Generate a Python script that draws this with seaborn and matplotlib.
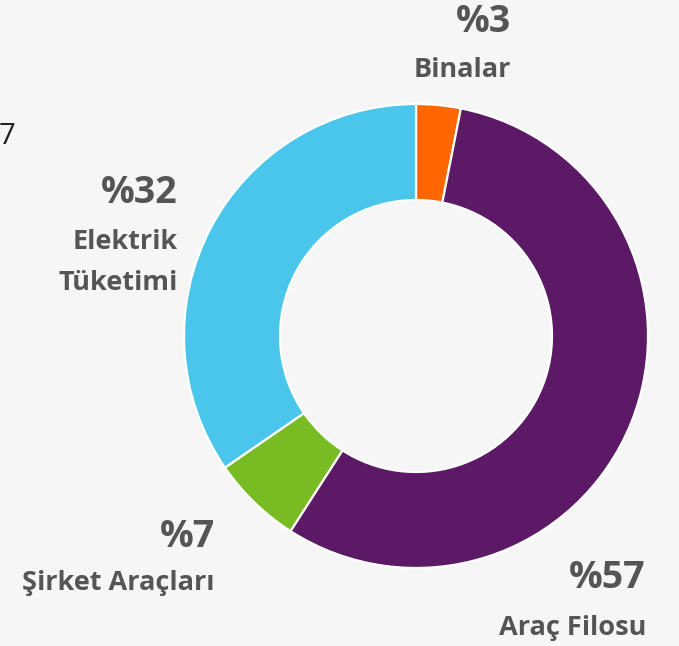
import matplotlib
matplotlib.use("Agg")
import matplotlib.pyplot as plt
import seaborn as sns

# dilim payları (resimden okunan açılara göre) ve etiketler
dilimler = ["Binalar", "Araç Filosu", "Şirket Araçları", "Elektrik Tüketimi"]
paylar = [3.1, 56.0, 6.3, 34.6]
yuzde_etiket = ["%3", "%57", "%7", "%32"]
renkler = ["#FF6600", "#5C1A66", "#78BB22", "#4AC6EC"]

sns.set_theme(style="white", rc={"figure.facecolor": "#F6F6F6",
                                 "axes.facecolor": "#F6F6F6"})
plt.rcParams["font.family"] = ["Open Sans", "DejaVu Sans"]

W, H = 679, 646
fig = plt.figure(figsize=(W / 100, H / 100), dpi=100)
ax = fig.add_axes([0, 0, 1, 1])

merkez = (416, H - 336)
ax.pie(paylar, colors=sns.color_palette(renkler), startangle=90,
       counterclock=False, center=merkez, radius=232,
       wedgeprops=dict(width=96, edgecolor="white", linewidth=1.6))
ax.set_xlim(0, W)
ax.set_ylim(0, H)
ax.set_aspect("equal")
ax.axis("off")

yazi = "#555555"
# etiket konumları (piksel, üstten)
konum = {
    "Binalar": (511, 22, ["Binalar"], 70, 0),
    "Araç Filosu": (646, 578, ["Araç Filosu"], 628, 0),
    "Şirket Araçları": (215, 537, ["Şirket Araçları"], 583, 0),
    "Elektrik Tüketimi": (178, 193, ["Elektrik", "Tüketimi"], 242, 41),
}
for ad, yz in zip(dilimler, yuzde_etiket):
    x, y1, satirlar, y2, aralik = konum[ad]
    ax.text(x, H - y1, yz, ha="right", va="center", fontsize=27,
            fontweight="bold", color=yazi)
    for i, s in enumerate(satirlar):
        ax.text(x, H - (y2 + i * aralik), s, ha="right", va="center",
                fontsize=19.5, fontweight="bold", color=yazi)

# sol kenarda kesik kalan yazı
ax.text(-1, H - 137, "7", ha="left", va="center", fontsize=21,
        color="#222222")

fig.savefig("out.png", dpi=100, facecolor=fig.get_facecolor())
